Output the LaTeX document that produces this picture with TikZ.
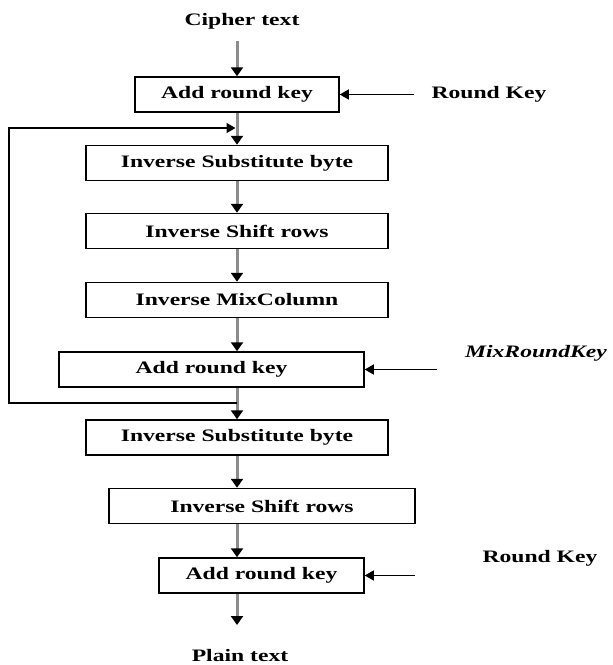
\documentclass[tikz,border=0pt]{standalone}
\usepackage{fontspec}
\setmainfont[FakeStretch=1.35]{Liberation Serif}
\usetikzlibrary{arrows.meta}
\tikzset{
  stage/.style={draw, line width=1.5pt, minimum height=35pt, inner sep=0pt,
    font=\fontsize{17.5}{20}\selectfont\bfseries},
  keytext/.style={inner sep=0pt, font=\fontsize{17.5}{20}\selectfont\bfseries},
  flow/.style={draw=black!45, line width=3pt,
    -{Triangle[width=12pt,length=9pt,black]}},
  keyin/.style={line width=1.3pt, -{Triangle[width=10pt,length=9pt]}},
  feed/.style={line width=1.5pt, -{Triangle[width=10pt,length=9pt]}}
}
\begin{document}
\begin{tikzpicture}[x=1pt,y=-1pt]
\useasboundingbox (0,0) rectangle (613,665);
\node[keytext] (cipher) at (242,21) {Cipher text};
\node[stage, minimum width=204pt] (ark1) at (237,94.5) {Add round key};
\node[stage, minimum width=302pt] (isb1) at (237,163) {Inverse Substitute byte};
\node[stage, minimum width=302pt] (isr1) at (237,231) {Inverse Shift rows};
\node[stage, minimum width=302pt] (imc) at (237,300) {Inverse MixColumn};
\node[stage, minimum width=305pt] (ark2) at (211.5,369.5) {Add round key};
\node[stage, minimum width=302pt] (isb2) at (237,437.5) {Inverse Substitute byte};
\node[stage, minimum width=306pt] (isr2) at (262,506) {Inverse Shift rows};
\node[stage, minimum width=205pt] (ark3) at (261.5,575.5) {Add round key};
\node[keytext] (plain) at (240,656) {Plain text};
% keys on the right
\node[keytext] (rk1) at (489,94) {Round Key};
\node[keytext, font=\fontsize{17.5}{20}\selectfont\bfseries\itshape] (mrk) at (536,353) {MixRoundKey};
\node[keytext] (rk2) at (540,558) {Round Key};
\coordinate (rk1in) at (414,94.5);
\coordinate (mrkin) at (437,369.5);
\coordinate (rk2in) at (415,575.5);
% loop back
\coordinate (join) at (237,128);
\coordinate (split) at (237,403);
\coordinate (out) at (237,625);
\draw[flow, shorten <=12pt] (cipher.south -| ark1.north) -- (ark1.north);
\draw[flow] (ark1.south) -- (isb1.north);
\draw[flow] (isb1.south) -- (isr1.north);
\draw[flow] (isr1.south) -- (imc.north);
\draw[flow] (imc.south) -- (imc.south |- ark2.north);
\draw[flow] (ark2.south -| imc.south) -- (isb2.north);
\draw[flow] (isb2.south) -- (isb2.south |- isr2.north);
\draw[flow] (isr2.south -| isb2.south) -- (isb2.south |- ark3.north);
\draw[flow] (ark3.south -| isb2.south) -- (out);
\draw[keyin] (rk1in) -- (ark1.east);
\draw[keyin] (mrkin) -- (ark2.east);
\draw[keyin] (rk2in) -- (ark3.east);
\draw[feed, shorten >=1.5pt] (split) -- ++(-228,0) |- (join);
\end{tikzpicture}
\end{document}
